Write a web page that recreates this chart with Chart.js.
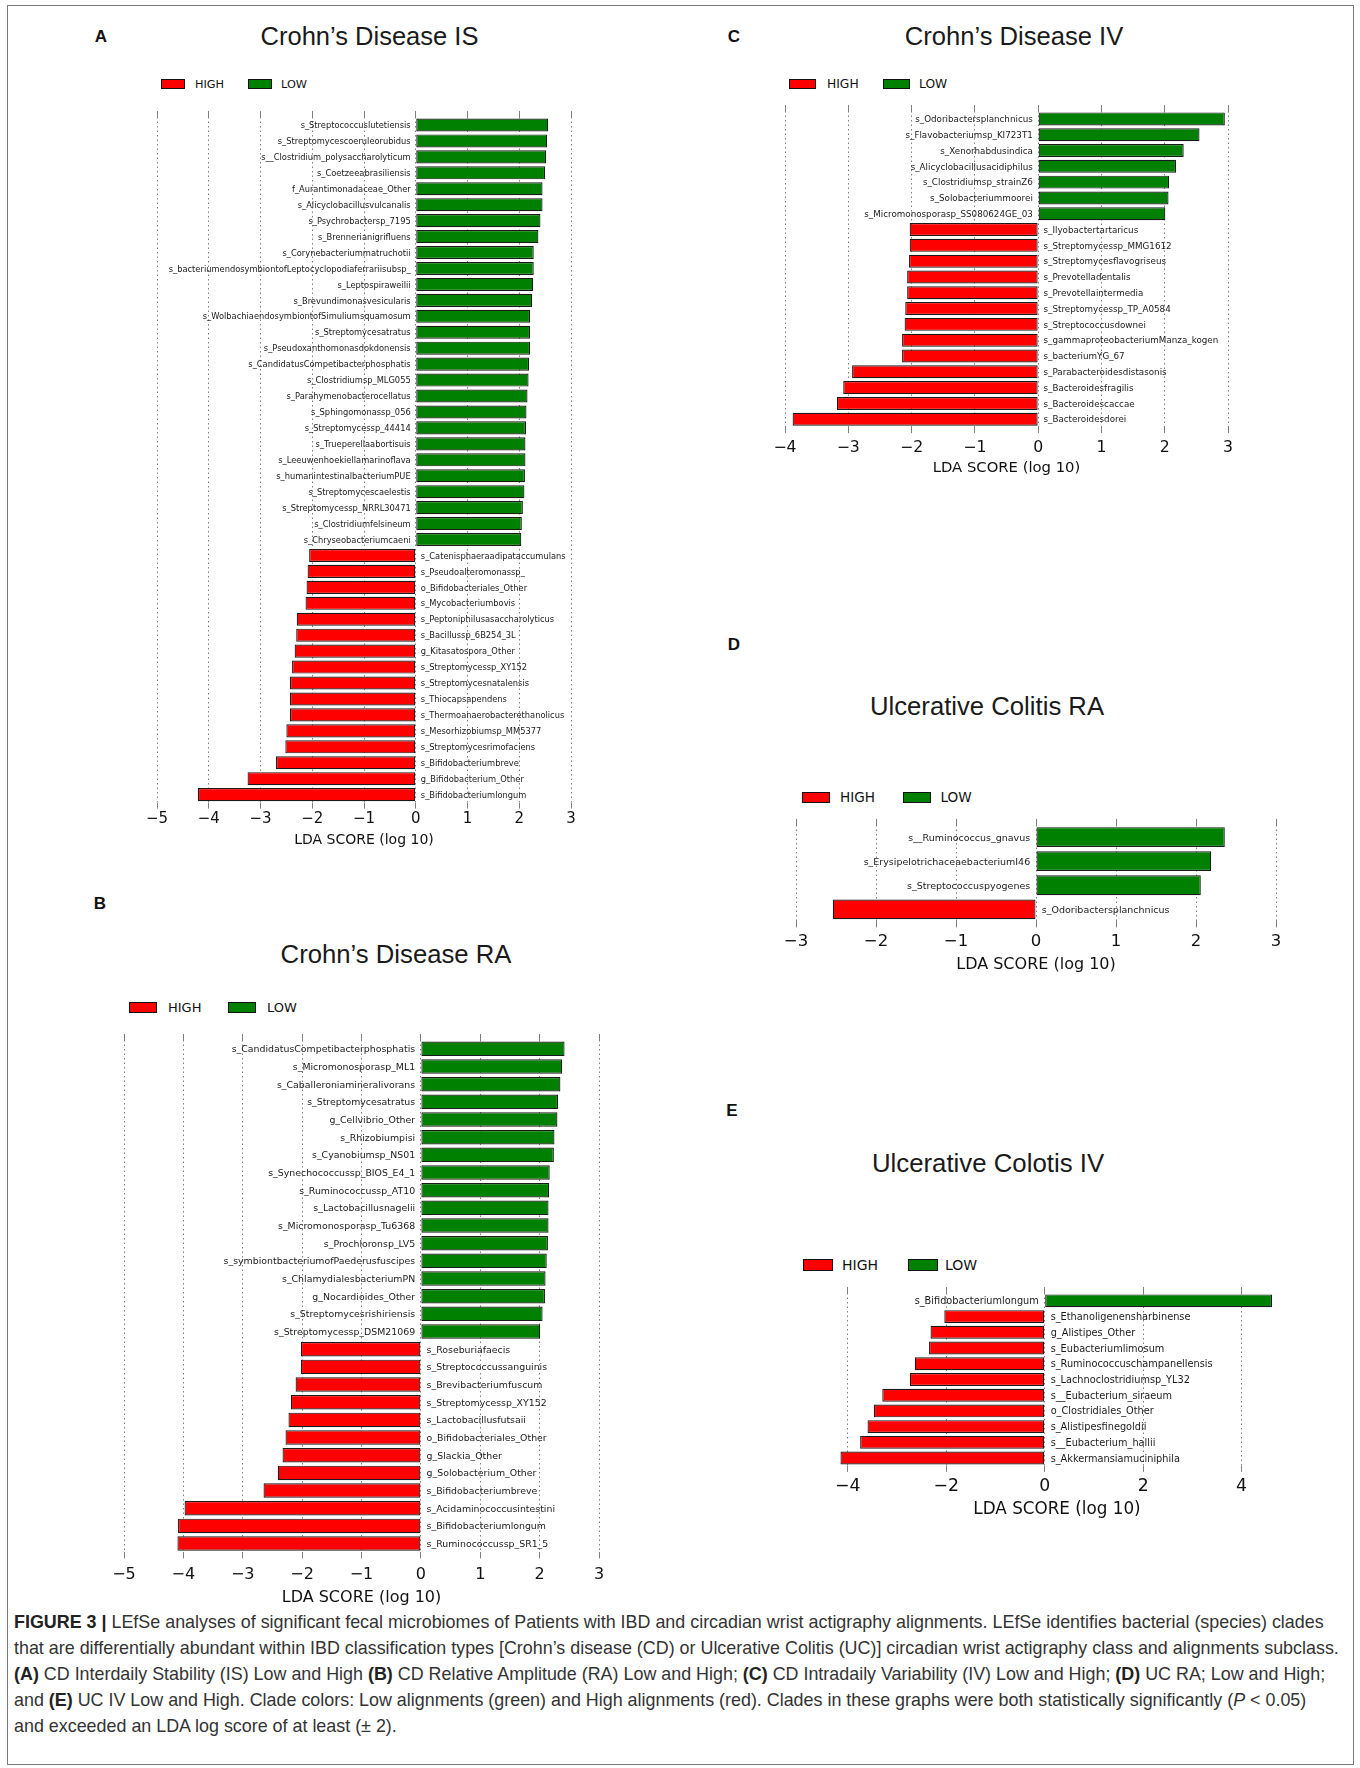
<!DOCTYPE html>
<html>
<head>
<meta charset="utf-8">
<script src="https://cdn.jsdelivr.net/npm/chart.js@4.4.1/dist/chart.umd.min.js"></script>
<style>
  html, body { margin: 0; padding: 0; background: #fff; }
  #page { position: relative; width: 1360px; height: 1768px; overflow: hidden; }
  #frame { position: absolute; left: 7px; top: 5px; width: 1347px; height: 1760px; border: 1.5px solid #7a7a7a; box-sizing: border-box; }
  canvas { position: absolute; }
  .title { position: absolute; font-family: "Liberation Sans", Arial, sans-serif; color: #1a1a1a; white-space: nowrap; transform: translate(-50%, -50%); }
  .letter { position: absolute; font-family: "Liberation Sans", Arial, sans-serif; font-weight: bold; font-size: 17px; color: #111; transform: translate(-50%, -50%); }
  .lgbox { position: absolute; border: 1px solid #111; box-sizing: border-box; }
  .lgtext { position: absolute; font-family: "DejaVu Sans", sans-serif; color: #111; transform: translateY(-50%); white-space: nowrap; }
  .cap { position: absolute; left: 14px; font-family: "Liberation Sans", Arial, sans-serif; font-size: 17.9px; color: #333; white-space: nowrap; transform: translateY(-50%); }
  .cap b { color: #222; }
</style>
</head>
<body>
<div id="page">
  <div id="frame"></div>
</div>
<script>
// ---- data (LDA scores, negative = HIGH, positive = LOW) ----
const A_LABELS = ["s_Streptococcuslutetiensis", "s_Streptomycescoeruleorubidus", "s__Clostridium_polysaccharolyticum",
  "s_Coetzeeabrasiliensis", "f_Aurantimonadaceae_Other", "s_Alicyclobacillusvulcanalis", "s_Psychrobactersp_7195",
  "s_Brennerianigrifluens", "s_Corynebacteriummatruchotii", "s_bacteriumendosymbiontofLeptocyclopodiaferrariisubsp_",
  "s_Leptospiraweilii", "s_Brevundimonasvesicularis", "s_WolbachiaendosymbiontofSimuliumsquamosum", "s_Streptomycesatratus",
  "s_Pseudoxanthomonasdokdonensis", "s_CandidatusCompetibacterphosphatis", "s_Clostridiumsp_MLG055",
  "s_Parahymenobacterocellatus", "s_Sphingomonassp_056", "s_Streptomycessp_44414", "s_Trueperellaabortisuis",
  "s_Leeuwenhoekiellamarinoflava", "s_humanintestinalbacteriumPUE", "s_Streptomycescaelestis",
  "s_Streptomycessp_NRRL30471", "s_Clostridiumfelsineum", "s_Chryseobacteriumcaeni",
  "s_Catenisphaeraadipataccumulans", "s_Pseudoalteromonassp_", "o_Bifidobacteriales_Other", "s_Mycobacteriumbovis",
  "s_Peptoniphilusasaccharolyticus", "s_Bacillussp_6B254_3L", "g_Kitasatospora_Other", "s_Streptomycessp_XY152",
  "s_Streptomycesnatalensis", "s_Thiocapsapendens", "s_Thermoanaerobacterethanolicus", "s_Mesorhizobiumsp_MM5377",
  "s_Streptomycesrimofaciens", "s_Bifidobacteriumbreve", "g_Bifidobacterium_Other", "s_Bifidobacteriumlongum"];
const A_SCORES = [2.56, 2.54, 2.52, 2.50, 2.45, 2.45, 2.41, 2.37, 2.28, 2.28, 2.27, 2.25, 2.21, 2.21, 2.21, 2.19,
  2.18, 2.16, 2.14, 2.13, 2.12, 2.12, 2.11, 2.10, 2.07, 2.05, 2.04,
  -2.06, -2.09, -2.11, -2.13, -2.30, -2.31, -2.34, -2.39, -2.43, -2.43, -2.43, -2.50, -2.52, -2.70, -3.25, -4.21];
const A_TICKS = [-5, -4, -3, -2, -1, 0, 1, 2, 3];

const B_LABELS = ["s_CandidatusCompetibacterphosphatis", "s_Micromonosporasp_ML1", "s_Caballeroniamineralivorans",
  "s_Streptomycesatratus", "g_Cellvibrio_Other", "s_Rhizobiumpisi", "s_Cyanobiumsp_NS01", "s_Synechococcussp_BIOS_E4_1",
  "s_Ruminococcussp_AT10", "s_Lactobacillusnagelii", "s_Micromonosporasp_Tu6368", "s_Prochloronsp_LV5",
  "s_symbiontbacteriumofPaederusfuscipes", "s_ChlamydialesbacteriumPN", "g_Nocardioides_Other",
  "s_Streptomycesrishiriensis", "s_Streptomycessp_DSM21069",
  "s_Roseburiafaecis", "s_Streptococcussanguinis", "s_Brevibacteriumfuscum", "s_Streptomycessp_XY152",
  "s_Lactobacillusfutsaii", "o_Bifidobacteriales_Other", "g_Slackia_Other", "g_Solobacterium_Other",
  "s_Bifidobacteriumbreve", "s_Acidaminococcusintestini", "s_Bifidobacteriumlongum", "s_Ruminococcussp_SR1_5"];
const B_SCORES = [2.42, 2.38, 2.35, 2.31, 2.30, 2.25, 2.24, 2.17, 2.16, 2.15, 2.15, 2.14, 2.12, 2.10, 2.09, 2.05, 2.01,
  -2.02, -2.02, -2.11, -2.19, -2.23, -2.28, -2.33, -2.41, -2.65, -3.98, -4.09, -4.10];
const B_TICKS = [-5, -4, -3, -2, -1, 0, 1, 2, 3];

const C_LABELS = ["s_Odoribactersplanchnicus", "s_Flavobacteriumsp_KI723T1", "s_Xenorhabdusindica",
  "s_Alicyclobacillusacidiphilus", "s_Clostridiumsp_strainZ6", "s_Solobacteriummoorei", "s_Micromonosporasp_SS080624GE_03",
  "s_Ilyobactertartaricus", "s_Streptomycessp_MMG1612", "s_Streptomycesflavogriseus", "s_Prevotelladentalis",
  "s_Prevotellaintermedia", "s_Streptomycessp_TP_A0584", "s_Streptococcusdownei", "s_gammaproteobacteriumManza_kogen",
  "s_bacteriumYG_67", "s_Parabacteroidesdistasonis", "s_Bacteroidesfragilis", "s_Bacteroidescaccae", "s_Bacteroidesdorei"];
const C_SCORES = [2.95, 2.55, 2.30, 2.18, 2.07, 2.06, 2.01,
  -2.03, -2.03, -2.04, -2.07, -2.07, -2.10, -2.11, -2.15, -2.15, -2.94, -3.08, -3.18, -3.88];
const C_TICKS = [-4, -3, -2, -1, 0, 1, 2, 3];

const D_LABELS = ["s__Ruminococcus_gnavus", "s_ErysipelotrichaceaebacteriumI46", "s_Streptococcuspyogenes",
  "s_Odoribactersplanchnicus"];
const D_SCORES = [2.36, 2.19, 2.06, -2.54];
const D_TICKS = [-3, -2, -1, 0, 1, 2, 3];

const E_LABELS = ["s_Bifidobacteriumlongum", "s_Ethanoligenensharbinense", "g_Alistipes_Other", "s_Eubacteriumlimosum",
  "s_Ruminococcuschampanellensis", "s_Lachnoclostridiumsp_YL32", "s__Eubacterium_siraeum", "o_Clostridiales_Other",
  "s_Alistipesfinegoldii", "s__Eubacterium_hallii", "s_Akkermansiamuciniphila"];
const E_SCORES = [4.62, -2.04, -2.32, -2.35, -2.64, -2.74, -3.30, -3.47, -3.60, -3.75, -4.15];
const E_TICKS = [-4, -2, 0, 2, 4];

const TITLES = ["Crohn\u2019s Disease IS", "Crohn\u2019s Disease RA", "Crohn\u2019s Disease IV",
  "Ulcerative Colitis RA", "Ulcerative Colotis IV"];
const SERIES = ["HIGH", "LOW"];
const AXIS_TITLE = "LDA SCORE (log 10)";

const RED = "#ff0000";
const GREEN = "#008000";

// ---- layout of each panel (pixel geometry) ----
const panels = [
  { letter: "A", labels: A_LABELS, scores: A_SCORES, ticks: A_TICKS, min: -5, max: 3,
    L: 157, R: 571, T: 117, B: 803, lab: 8.3, tick: 15, axt: 14, tickOff: 17, titleOff: 38,
    title: [369.5, 36, 25.5], letterPos: [101, 37], legend: { x: 161, y: 84, w: 24, h: 10, hi: 195, gx: 248, lo: 281, fs: 11.3 } },
  { letter: "B", labels: B_LABELS, scores: B_SCORES, ticks: B_TICKS, min: -5, max: 3,
    L: 124, R: 599, T: 1040.2, B: 1552.8, lab: 9.4, tick: 16, axt: 16, tickOff: 22, titleOff: 45,
    title: [396, 954, 25.7], letterPos: [100, 904], legend: { x: 129, y: 1007, w: 28, h: 11, hi: 168, gx: 228, lo: 267, fs: 13 } },
  { letter: "C", labels: C_LABELS, scores: C_SCORES, ticks: C_TICKS, min: -4, max: 3,
    L: 784.5, R: 1227, T: 111.4, B: 427.2, lab: 8.75, tick: 15.7, axt: 14.8, tickOff: 21, titleOff: 41,
    title: [1014, 36, 25.6], letterPos: [734, 37], legend: { x: 789, y: 83.5, w: 27, h: 10, hi: 827, gx: 883, lo: 919, fs: 12.3 } },
  { letter: "D", labels: D_LABELS, scores: D_SCORES, ticks: D_TICKS, min: -3, max: 3,
    L: 796, R: 1275.5, T: 825, B: 921, lab: 9.5, tick: 16.5, axt: 16, tickOff: 20.6, titleOff: 43,
    title: [987, 706, 25.7], letterPos: [734, 645], legend: { x: 802, y: 797, w: 28, h: 11, hi: 840, gx: 903, lo: 940.5, fs: 13.6 } },
  { letter: "E", labels: E_LABELS, scores: E_SCORES, ticks: E_TICKS, min: -4.2, max: 4.7,
    L: 837.6, R: 1275.4, T: 1292.8, B: 1466.2, lab: 9.75, tick: 17.3, axt: 16.8, tickOff: 21, titleOff: 44,
    title: [988, 1163, 25.8], letterPos: [732, 1111], legend: { x: 803, y: 1265, w: 30, h: 12, hi: 842, gx: 908, lo: 945, fs: 14 } },
];

const page = document.getElementById("page");
function addDiv(cls, text, style) {
  const d = document.createElement("div");
  d.className = cls;
  if (text != null) d.textContent = text;
  Object.assign(d.style, style);
  page.appendChild(d);
  return d;
}

// labels next to the zero line, drawn under the grid
const barLabels = {
  id: "barLabels",
  afterDatasetsDraw(chart, args, opts) {
    const { ctx } = chart;
    const x0 = chart.scales.x.getPixelForValue(0);
    ctx.save();
    ctx.font = opts.size + 'px "DejaVu Sans"';
    ctx.fillStyle = "#1a1a1a";
    ctx.textBaseline = "middle";
    chart.data.datasets.forEach((ds, di) => {
      chart.getDatasetMeta(di).data.forEach((bar, i) => {
        const v = ds.data[i];
        if (v == null) return;
        const label = chart.data.labels[i];
        if (v > 0) {
          ctx.textAlign = "right";
          ctx.fillText(label, x0 - opts.gap, bar.y + 1);
        } else {
          ctx.textAlign = "left";
          ctx.fillText(label, x0 + opts.gap, bar.y + 1);
        }
      });
    });
    ctx.restore();
  },
};

const fmt = (v) => (v < 0 ? "\u2212" + Math.abs(v) : String(v));
const GRID = "rgba(0,0,0,0.5)";

panels.forEach((p, idx) => {
  // titles, panel letters, legends
  addDiv("title", TITLES[idx], { left: p.title[0] + "px", top: p.title[1] + "px", fontSize: p.title[2] + "px" });
  addDiv("letter", p.letter, { left: p.letterPos[0] + "px", top: p.letterPos[1] + "px" });
  const lg = p.legend;
  addDiv("lgbox", null, { left: lg.x + "px", top: lg.y - lg.h / 2 + "px", width: lg.w + "px", height: lg.h + "px", background: RED });
  addDiv("lgtext", SERIES[0], { left: lg.hi + "px", top: lg.y + "px", fontSize: lg.fs + "px" });
  addDiv("lgbox", null, { left: lg.gx + "px", top: lg.y - lg.h / 2 + "px", width: lg.w + "px", height: lg.h + "px", background: GREEN });
  addDiv("lgtext", SERIES[1], { left: lg.lo + "px", top: lg.y + "px", fontSize: lg.fs + "px" });

  // canvas sized so the chart area lands on the measured geometry
  const PAD = 30, TOPAX = 6;
  const axH = p.titleOff + p.axt * 0.6;
  const w = Math.round(p.R - p.L + 2 * PAD);
  const h = Math.round(TOPAX + (p.B - p.T) + axH);
  const cv = document.createElement("canvas");
  cv.width = w;
  cv.height = h;
  cv.style.left = p.L - PAD + "px";
  cv.style.top = p.T - TOPAX + "px";
  cv.style.width = w + "px";
  cv.style.height = h + "px";
  page.appendChild(cv);

  const setTicks = (s) => { s.ticks = p.ticks.map((v) => ({ value: v })); };

  new Chart(cv, {
    type: "bar",
    data: {
      labels: p.labels,
      datasets: [
        { label: SERIES[0], data: p.scores.map((v) => (v < 0 ? v : null)), backgroundColor: RED },
        { label: SERIES[1], data: p.scores.map((v) => (v > 0 ? v : null)), backgroundColor: GREEN },
      ],
    },
    options: {
      indexAxis: "y",
      responsive: false,
      animation: false,
      devicePixelRatio: 1,
      layout: { padding: { left: PAD, right: PAD, top: 0, bottom: 0 } },
      datasets: {
        bar: { barPercentage: 0.82, categoryPercentage: 1, borderColor: "#1a1a1a", borderWidth: 1.2, borderSkipped: false },
      },
      plugins: {
        legend: { display: false },
        tooltip: { enabled: false },
        barLabels: { size: p.lab, gap: 5 * p.lab / 8.2 },
      },
      scales: {
        y: { stacked: true, display: false, offset: true },
        x: {
          type: "linear", position: "bottom", stacked: true, min: p.min, max: p.max, z: 1,
          afterBuildTicks: setTicks,
          afterFit: (s) => { s.height = axH; },
          grid: { color: GRID, lineWidth: 1, tickLength: 6, tickColor: GRID, tickWidth: 1 },
          border: { display: false, dash: [1.5, 3] },
          ticks: {
            font: { family: "DejaVu Sans", size: p.tick }, color: "#111",
            padding: p.tickOff - 6 - p.tick * 0.6, maxRotation: 0, callback: fmt,
          },
          title: { display: true, text: AXIS_TITLE, font: { family: "DejaVu Sans", size: p.axt }, color: "#111", padding: 0 },
        },
        x2: {
          type: "linear", position: "top", min: p.min, max: p.max,
          afterBuildTicks: setTicks,
          afterFit: (s) => { s.height = TOPAX; },
          grid: { drawOnChartArea: false, tickLength: TOPAX, tickColor: GRID },
          border: { display: false },
          ticks: { display: false },
        },
      },
    },
    plugins: [barLabels],
  });
});

// caption
const CAPTION = [
  "<b>FIGURE 3 |</b> LEfSe analyses of significant fecal microbiomes of Patients with IBD and circadian wrist actigraphy alignments. LEfSe identifies bacterial (species) clades",
  "that are differentially abundant within IBD classification types [Crohn\u2019s disease (CD) or Ulcerative Colitis (UC)] circadian wrist actigraphy class and alignments subclass.",
  "<b>(A)</b> CD Interdaily Stability (IS) Low and High <b>(B)</b> CD Relative Amplitude (RA) Low and High; <b>(C)</b> CD Intradaily Variability (IV) Low and High; <b>(D)</b> UC RA; Low and High;",
  "and <b>(E)</b> UC IV Low and High. Clade colors: Low alignments (green) and High alignments (red). Clades in these graphs were both statistically significantly (<i>P</i> &lt; 0.05)",
  "and exceeded an LDA log score of at least (\u00b1 2).",
];
const CAP_Y = [1622, 1648, 1674, 1700, 1726];
CAPTION.forEach((t, i) => {
  const d = addDiv("cap", null, { top: CAP_Y[i] + "px" });
  d.innerHTML = t;
});
</script>
</body>
</html>
